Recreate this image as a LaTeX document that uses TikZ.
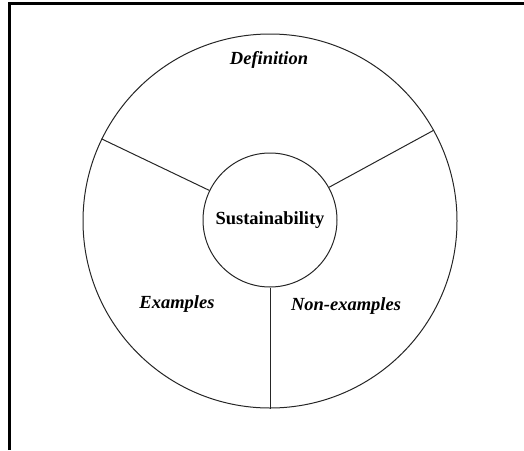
\documentclass[tikz,border=0pt]{standalone}
\usepackage{fontspec}
\setmainfont{Liberation Serif}
\begin{document}
\begin{tikzpicture}[x=1pt,y=-1pt,
  ring/.style={draw=black!85,line width=1pt},
  spoke/.style={draw=black!85,line width=1pt},
  lab/.style={font=\fontsize{18.5}{20}\selectfont\bfseries\itshape},
  core/.style={circle,ring,minimum size=134pt,inner sep=0pt,font=\fontsize{18.5}{20}\selectfont\bfseries}]
\useasboundingbox (0,0) rectangle (524,450);
\coordinate (fa) at (8,3.5);
\coordinate (fb) at (524,3.5);
\coordinate (fc) at (9.5,450);
\draw[line width=3pt] (fc) -- (9.5,3.5 |- fa) -- (fb);
\node[circle,ring,minimum size=374pt,inner sep=0pt] (outer) at (270,221) {};
\node[core] (in) at (270,220) {Sustainability};
\draw[spoke] (in.154) -- (outer.154);
\draw[spoke] (in.29) -- (outer.29);
\draw[spoke] (in.south) -- (outer.south);
\node[lab] (def) at (269,60) {Definition};
\node[lab] (ex) at (177,304) {Examples};
\node[lab] (nex) at (346,306) {Non-examples};
\end{tikzpicture}
\end{document}
